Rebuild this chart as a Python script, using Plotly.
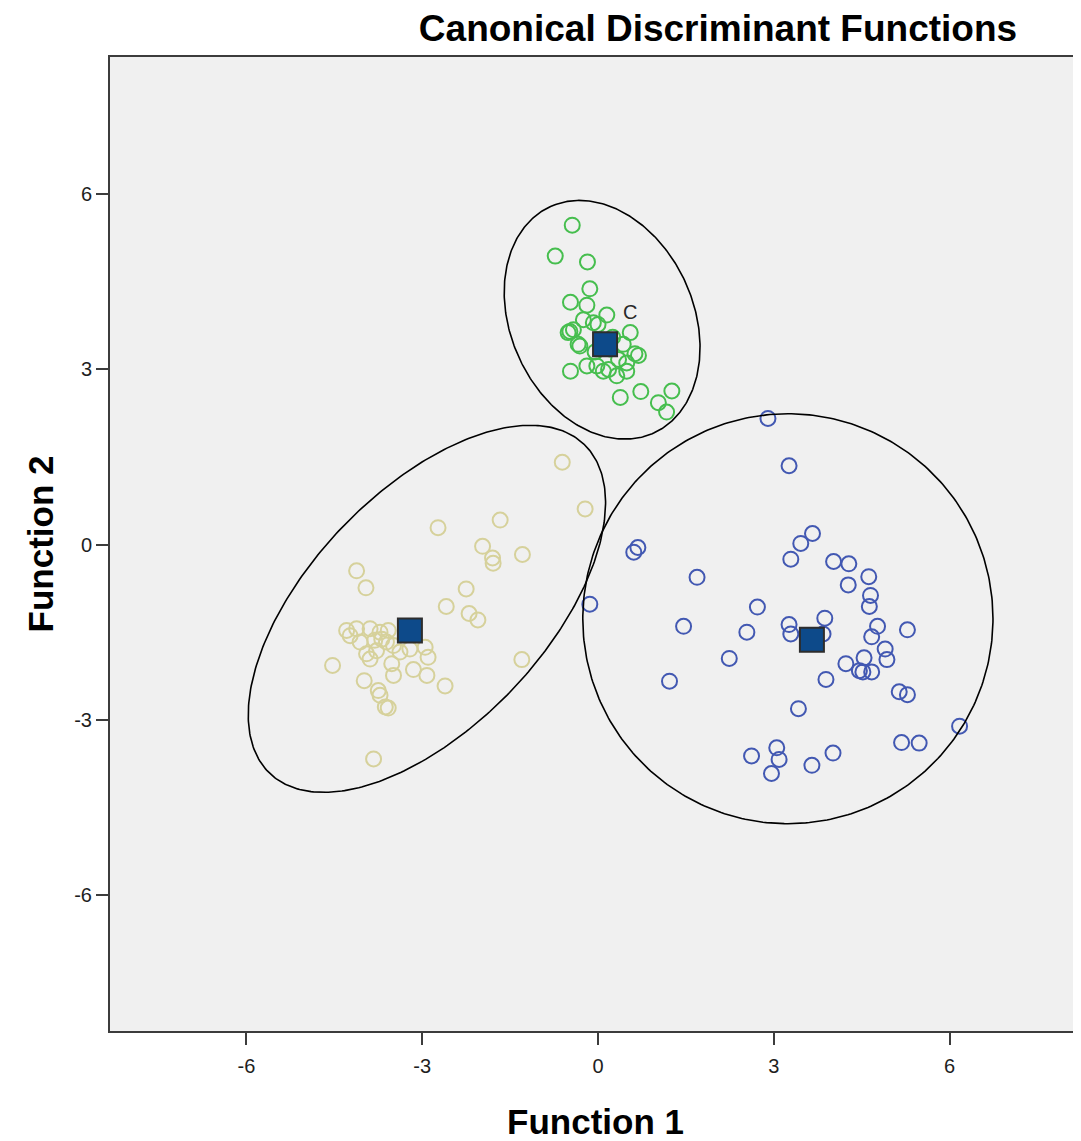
import numpy as np
import plotly.graph_objects as go

# ---- data ----
green_x = [-0.44, -0.73, -0.18, -0.14, -0.47, -0.19, 0.15, -0.08, -0.48, -0.42, -0.51, 0.55,
           -0.31, 0.43, 0.63, 0.69, 0.49, -0.02, 0.09, 0.32, 0.49, -0.47, 0.38, 0.73, 1.03,
           1.26, 1.17, -0.25, -0.34, 0.35, 0.18, -0.19, 0.00, 0.10, 0.20, 0.25, -0.05]
green_y = [5.47, 4.94, 4.84, 4.38, 4.15, 4.10, 3.93, 3.80, 3.65, 3.68, 3.63, 3.63,
           3.40, 3.43, 3.27, 3.24, 3.11, 3.06, 2.97, 2.89, 2.97, 2.97, 2.52, 2.62, 2.43,
           2.63, 2.27, 3.85, 3.43, 3.17, 3.00, 3.06, 3.77, 3.50, 3.35, 3.55, 3.30]

tan_x = [-0.61, -0.22, -2.73, -1.67, -1.97, -1.80, -1.79, -1.29, -4.12, -3.96, -2.25, -2.59,
         -2.20, -2.05, -1.30, -4.53, -2.61, -3.83, -4.29, -4.12, -3.89, -3.72, -3.58, -4.06,
         -3.81, -3.61, -3.95, -3.78, -3.21, -2.95, -2.90, -3.52, -3.49, -3.15, -2.92, -3.99,
         -3.75, -3.72, -3.63, -3.58, -3.69, -3.49, -3.38, -4.23, -3.89]
tan_y = [1.41, 0.61, 0.29, 0.42, -0.03, -0.23, -0.32, -0.17, -0.45, -0.74, -0.76, -1.06,
         -1.18, -1.29, -1.97, -2.07, -2.42, -3.67, -1.47, -1.44, -1.44, -1.50, -1.47, -1.67,
         -1.64, -1.67, -1.87, -1.82, -1.79, -1.76, -1.93, -2.04, -2.24, -2.14, -2.24, -2.33,
         -2.50, -2.58, -2.78, -2.80, -1.62, -1.73, -1.84, -1.56, -1.96]

blue_x = [2.90, 3.26, 3.66, 3.46, 3.29, 4.02, 4.28, 4.62, 4.27, 4.65, 4.63, 0.68, 0.61, -0.14,
          1.69, 2.72, 1.46, 2.54, 3.26, 3.29, 3.87, 3.84, 4.77, 4.67, 5.28, 4.90, 4.93, 4.54,
          2.24, 4.23, 4.46, 4.52, 4.67, 1.22, 3.89, 5.14, 5.28, 3.42, 6.17, 5.18, 5.48, 2.62,
          3.05, 3.09, 2.96, 3.65, 4.01]
blue_y = [2.16, 1.35, 0.19, 0.02, -0.25, -0.29, -0.33, -0.55, -0.69, -0.87, -1.06, -0.05, -0.13,
          -1.02, -0.56, -1.07, -1.40, -1.50, -1.37, -1.53, -1.26, -1.53, -1.40, -1.58, -1.46,
          -1.79, -1.97, -1.94, -1.95, -2.04, -2.16, -2.18, -2.18, -2.34, -2.31, -2.52, -2.57,
          -2.81, -3.11, -3.39, -3.40, -3.62, -3.48, -3.68, -3.92, -3.78, -3.57]

centroid_x = [0.12, -3.21, 3.65]
centroid_y = [3.43, -1.47, -1.63]

# ellipses: centre x, centre y, semi-axis a, semi-axis b, angle (deg)
ell_cx = [0.07, -2.92, 3.24]
ell_cy = [3.85, -1.10, -1.27]
ell_a = [2.13, 3.89, 3.50]
ell_b = [1.56, 2.01, 3.51]
ell_ang = [114.4, 46.5, 0.0]

tick_vals = [-6, -3, 0, 3, 6]
tick_text = ["-6", "-3", "0", "3", "6"]

label_text = "C"
label_x, label_y = 0.55, 3.99

# ---- figure ----
fig = go.Figure()

def pts(x, y, color):
    fig.add_trace(go.Scatter(
        x=x, y=y, mode="markers",
        marker=dict(symbol="circle-open", size=15, color=color,
                    line=dict(width=2, color=color)),
        showlegend=False, hoverinfo="skip"))

pts(tan_x, tan_y, "rgb(214,209,155)")
pts(blue_x, blue_y, "rgb(66,88,178)")
pts(green_x, green_y, "rgb(70,190,78)")

t = np.linspace(0, 2 * np.pi, 361)
for cx, cy, a, b, ang in zip(ell_cx, ell_cy, ell_a, ell_b, ell_ang):
    th = np.deg2rad(ang)
    ex = cx + a * np.cos(t) * np.cos(th) - b * np.sin(t) * np.sin(th)
    ey = cy + a * np.cos(t) * np.sin(th) + b * np.sin(t) * np.cos(th)
    fig.add_trace(go.Scatter(x=ex, y=ey, mode="lines",
                             line=dict(color="black", width=1.6),
                             showlegend=False, hoverinfo="skip"))

fig.add_trace(go.Scatter(
    x=centroid_x, y=centroid_y, mode="markers",
    marker=dict(symbol="square", size=24, color="rgb(13,74,138)",
                line=dict(width=2, color="rgb(45,45,45)")),
    showlegend=False, hoverinfo="skip"))

fig.add_annotation(x=label_x, y=label_y, text=label_text, showarrow=False,
                   font=dict(family="Liberation Sans, Arial, sans-serif", size=20,
                             color="rgb(40,40,40)"))

FW, FH = 1073, 1133  # page body has an 8px margin
axis_font = dict(family="Liberation Sans, Arial, sans-serif", size=20, color="rgb(30,30,30)")
fig.update_layout(
    width=FW, height=FH,
    margin=dict(l=102, r=0, t=49, b=108),
    paper_bgcolor="white",
    plot_bgcolor="rgb(240,240,240)",
    title=dict(text="<b>Canonical Discriminant Functions</b>",
               x=710 / FW, xref="container", xanchor="center",
               y=1 - 20 / FH, yref="container", yanchor="middle",
               font=dict(family="Liberation Sans, Arial, sans-serif", size=37,
                         color="black")),
    xaxis=dict(range=[-8.328, 8.242], tickvals=tick_vals, ticktext=tick_text,
               showgrid=False, zeroline=False,
               showline=True, linecolor="rgb(60,60,60)", linewidth=2, mirror=True,
               ticks="outside", ticklen=12, tickwidth=2, tickcolor="rgb(60,60,60)",
               tickfont=axis_font, ticklabelstandoff=4,
               title=dict(text="<b>Function 1</b>", standoff=39,
                          font=dict(family="Liberation Sans, Arial, sans-serif",
                                    size=35, color="black"))),
    yaxis=dict(range=[-8.33, 8.35], tickvals=tick_vals, ticktext=tick_text,
               showgrid=False, zeroline=False,
               showline=True, linecolor="rgb(60,60,60)", linewidth=2,
               ticks="outside", ticklen=12, tickwidth=2, tickcolor="rgb(60,60,60)",
               tickfont=axis_font,
               title=dict(text="<b>Function 2</b>", standoff=10,
                          font=dict(family="Liberation Sans, Arial, sans-serif",
                                    size=35, color="black"))),
)

fig.write_html("out.html")
